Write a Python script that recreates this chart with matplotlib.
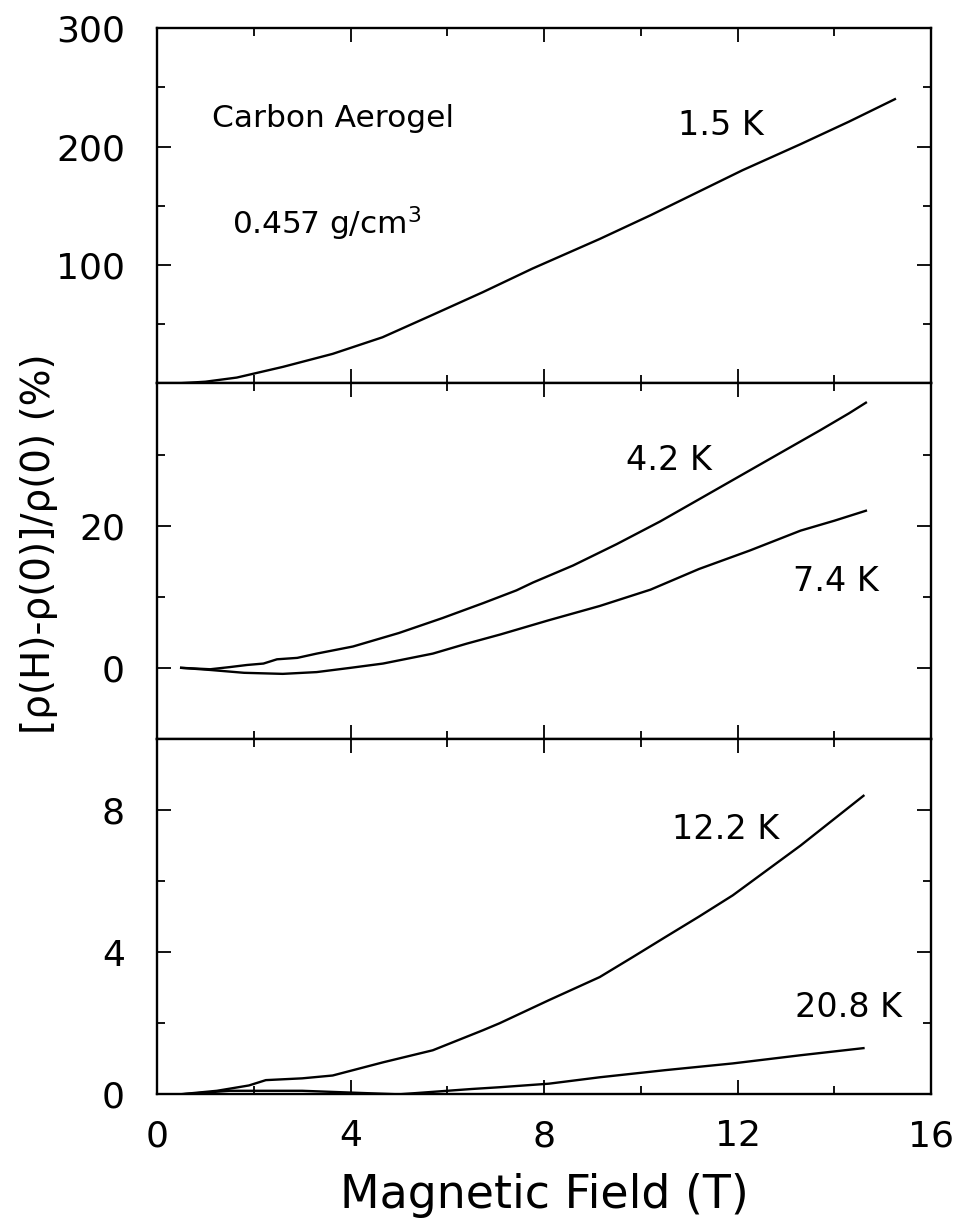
import matplotlib.pyplot as plt
from matplotlib.ticker import MultipleLocator

plt.rcParams['font.family'] = ['DejaVu Sans']
plt.rcParams['mathtext.fontset'] = 'dejavusans'

# magnetoresistance curves, field in tesla, MR in percent
field_1p5 = [0.4, 1.0, 1.65, 2.6, 3.63, 4.66, 5.7, 6.73, 7.76, 9.15, 10.2, 11.2, 12.1, 13.3, 14.3, 15.25]
mr_1p5 = [0, 1.5, 5, 14, 25, 39, 58, 77, 97, 122, 142, 162, 180, 202, 221, 240]

field_4p2 = [0.5, 1.1, 1.5, 1.86, 2.2, 2.48, 2.9, 3.3, 4.05, 5.0, 5.9, 6.74, 7.43, 7.77,
             8.6, 9.5, 10.4, 11.2, 12.05, 12.9, 13.7, 14.3, 14.65]
mr_4p2 = [0, -0.2, 0.1, 0.4, 0.6, 1.2, 1.4, 2.0, 3.0, 4.9, 7.0, 9.1, 10.9, 12.0,
          14.4, 17.4, 20.6, 23.7, 27.0, 30.3, 33.4, 35.8, 37.3]

field_7p4 = [0.5, 1.1, 1.8, 2.6, 3.3, 4.0, 4.67, 5.7, 6.4, 7.1, 8.1, 9.15, 10.2, 11.2, 12.25, 13.3, 14.0, 14.65]
mr_7p4 = [0, -0.3, -0.7, -0.85, -0.6, 0, 0.6, 2.0, 3.4, 4.7, 6.7, 8.7, 11.0, 13.9, 16.5, 19.3, 20.7, 22.1]

field_12p2 = [0.47, 1.24, 1.9, 2.25, 3.0, 3.63, 4.67, 5.7, 6.73, 7.08, 8.1, 9.15, 9.83, 10.5,
              11.2, 11.9, 12.6, 13.3, 13.95, 14.6]
mr_12p2 = [0, 0.1, 0.25, 0.4, 0.45, 0.53, 0.9, 1.24, 1.8, 2.0, 2.65, 3.3, 3.86, 4.42,
           5.0, 5.6, 6.3, 7.0, 7.7, 8.4]

field_20p8 = [0.5, 1.5, 3.0, 4.0, 5.0, 6.5, 7.08, 8.1, 9.15, 10.5, 11.9, 13.3, 14.6]
mr_20p8 = [0, 0.1, 0.1, 0.05, 0.0, 0.15, 0.2, 0.3, 0.48, 0.68, 0.87, 1.1, 1.3]

fig = plt.figure(figsize=(9.63, 12.2), dpi=100)
gs = fig.add_gridspec(3, 1, left=0.163, right=0.967, top=0.977, bottom=0.103, hspace=0)
ax1 = fig.add_subplot(gs[0])
ax2 = fig.add_subplot(gs[1], sharex=ax1)
ax3 = fig.add_subplot(gs[2], sharex=ax1)

lw = 1.7
ax1.plot(field_1p5, mr_1p5, color='black', lw=lw)
ax2.plot(field_4p2, mr_4p2, color='black', lw=lw)
ax2.plot(field_7p4, mr_7p4, color='black', lw=lw)
ax3.plot(field_12p2, mr_12p2, color='black', lw=lw)
ax3.plot(field_20p8, mr_20p8, color='black', lw=lw)

ax1.set_xlim(0, 16)
ax1.set_ylim(0, 300)
ax2.set_ylim(-10, 40)
ax3.set_ylim(0, 10)

ax1.set_yticks([100, 200, 300])
ax1.yaxis.set_minor_locator(MultipleLocator(50))
ax2.set_yticks([0, 20])
ax2.yaxis.set_minor_locator(MultipleLocator(10))
ax3.set_yticks([0, 4, 8])
ax3.yaxis.set_minor_locator(MultipleLocator(2))
ax3.set_xticks([0, 4, 8, 12, 16])
ax3.xaxis.set_minor_locator(MultipleLocator(2))

for ax in (ax1, ax2, ax3):
    for sp in ax.spines.values():
        sp.set_linewidth(1.7)
    ax.tick_params(which='both', direction='in', top=True, right=True, width=1.3)
    ax.tick_params(which='major', length=10, labelsize=26, pad=23)
    ax.tick_params(which='minor', length=6)
    if ax is not ax3:
        ax.tick_params(labelbottom=False)

ax3.tick_params(axis='x', pad=18)

ax1.text(1.14, 224, 'Carbon Aerogel', fontsize=22.5, va='center')
ax1.text(1.55, 135, '0.457 g/cm$^3$', fontsize=22.5, va='center')
ax1.text(10.76, 218, '1.5 K', fontsize=24, va='center')
ax2.text(9.7, 29.2, '4.2 K', fontsize=24, va='center')
ax2.text(13.14, 12.2, '7.4 K', fontsize=24, va='center')
ax3.text(10.64, 7.44, '12.2 K', fontsize=24, va='center')
ax3.text(13.18, 2.45, '20.8 K', fontsize=24, va='center')

ax3.set_xlabel('Magnetic Field (T)', fontsize=33, labelpad=14)
fig.text(0.04, 0.554, '[ρ(H)-ρ(0)]/ρ(0) (%)', rotation=90, fontsize=28,
         ha='center', va='center')

fig.savefig('out.png', dpi=100)
